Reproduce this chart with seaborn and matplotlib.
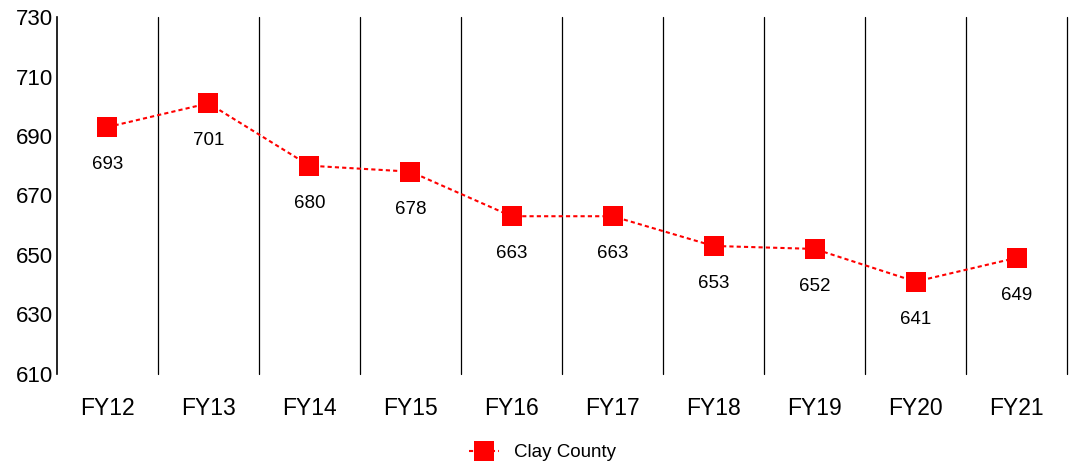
import matplotlib
matplotlib.use("Agg")
import matplotlib.pyplot as plt
import seaborn as sns
import pandas as pd
import numpy as np

years = ["FY12", "FY13", "FY14", "FY15", "FY16", "FY17", "FY18", "FY19", "FY20", "FY21"]
clay_county = [693, 701, 680, 678, 663, 663, 653, 652, 641, 649]
y_ticks = [610, 630, 650, 670, 690, 710, 730]

sns.set_theme(style="white")
plt.rcParams["font.family"] = ["Liberation Sans", "DejaVu Sans"]
plt.rcParams["text.color"] = "#000000"
plt.rcParams["xtick.color"] = "#000000"
plt.rcParams["ytick.color"] = "#000000"

df = pd.DataFrame({"pos": np.arange(len(years)), "value": clay_county, "series": "Clay County"})

fig = plt.figure(figsize=(10.75, 4.62), dpi=100)
ax = fig.add_axes([0.053, 0.191, 0.9396, 0.772])

sns.lineplot(data=df, x="pos", y="value", hue="series", palette=["#ff0000"],
             marker="s", markersize=14, markeredgewidth=0, linewidth=1.5,
             dashes=False, linestyle=(0, (2, 1.5)), ax=ax, legend=False, zorder=3)

for x, v in zip(df["pos"], df["value"]):
    ax.annotate(f"{v}", (x, v), xytext=(0, -27), textcoords="offset points",
                ha="center", va="center", fontsize=13.5, color="#000000")

n = len(years)
ax.set_xlim(-0.5, n - 0.5)
ax.set_ylim(610, 730)
ax.set_yticks(y_ticks)
ax.set_yticklabels([str(t) for t in y_ticks], fontsize=16)
ax.set_xticks(np.arange(n))
ax.set_xticklabels(years, fontsize=16.5)
ax.tick_params(axis="both", which="both", length=0)
ax.tick_params(axis="x", pad=17)
ax.tick_params(axis="y", pad=3)
ax.grid(False)
# category separators
for b in np.arange(n) + 0.5:
    ax.axvline(b, color="#000000", linewidth=0.9, clip_on=False, zorder=1)
ax.set_xlabel("")
ax.set_ylabel("")
for side in ["top", "right", "bottom"]:
    ax.spines[side].set_visible(False)
ax.spines["left"].set_color("#000000")
ax.spines["left"].set_linewidth(1.2)

handle = plt.Line2D([], [], color="#ff0000", marker="s", markersize=14,
                    markeredgewidth=0, linewidth=1.5, linestyle=(0, (2, 1.5)))
fig.legend([handle], ["Clay County"], loc="lower center", bbox_to_anchor=(0.505, -0.035),
           frameon=False, fontsize=13.5, handlelength=1.6, handletextpad=0.8)

fig.savefig("out.png", dpi=100)
